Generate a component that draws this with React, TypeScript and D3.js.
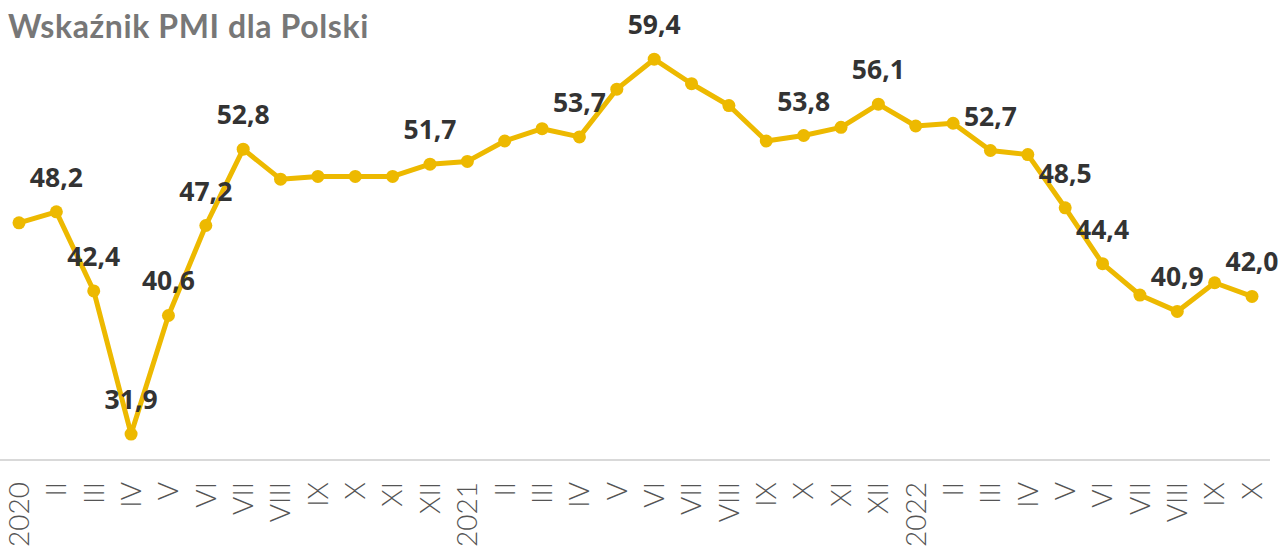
import React from "react";
import * as d3 from "d3";

const months = [
  "I 2020", "II", "III", "IV", "V", "VI", "VII", "VIII", "IX", "X", "XI", "XII",
  "I 2021", "II", "III", "IV", "V", "VI", "VII", "VIII", "IX", "X", "XI", "XII",
  "I 2022", "II", "III", "IV", "V", "VI", "VII", "VIII", "IX", "X",
];
const pmi = [
  47.4, 48.2, 42.4, 31.9, 40.6, 47.2, 52.8, 50.6, 50.8, 50.8, 50.8, 51.7,
  51.9, 53.4, 54.3, 53.7, 57.2, 59.4, 57.6, 56.0, 53.4, 53.8, 54.4, 56.1,
  54.5, 54.7, 52.7, 52.4, 48.5, 44.4, 42.1, 40.9, 43.0, 42.0,
];
const labeled = [1, 2, 3, 4, 5, 6, 11, 15, 17, 21, 23, 26, 28, 29, 31, 33];
const title = "Wskaźnik PMI dla Polski";

const W = 1283;
const H = 551;

export default function App() {
  const keys = months.map((_, i) => String(i));
  const x = d3.scalePoint<string>().domain(keys).range([19, 1252]);
  const y = d3.scaleLinear().domain([30, 60]).range([460, 51]);
  const line = d3
    .line<number>()
    .x((_, i) => x(String(i)) as number)
    .y((d) => y(d));
  const yellow = "#EDB900";
  return (
    <svg
      width={W}
      height={H}
      style={{ position: "absolute", left: 0, top: 0, background: "#fff" }}
    >
      <text
        x={8}
        y={38}
        fontFamily="Lato, 'Open Sans', sans-serif"
        fontWeight={700}
        fontSize={32}
        letterSpacing={0.6}
        fill="#777"
      >
        {title}
      </text>
      <line x1={0} x2={1270} y1={y(30)} y2={y(30)} stroke="#d9d9d9" strokeWidth={2} />
      <path d={line(pmi) || ""} fill="none" stroke={yellow} strokeWidth={5} strokeLinejoin="round" />
      {pmi.map((v, i) => (
        <circle key={i} cx={x(String(i))} cy={y(v)} r={6.5} fill={yellow} />
      ))}
      {labeled.map((i) => (
        <text
          key={"l" + i}
          x={x(String(i))}
          y={y(pmi[i]) - 25}
          textAnchor="middle"
          fontFamily="'Open Sans', Lato, sans-serif"
          fontWeight={700}
          fontSize={26.5}
          fill="#333"
        >
          {pmi[i].toFixed(1).replace(".", ",")}
        </text>
      ))}
      {months.map((m, i) => (
        <text
          key={"t" + i}
          transform={`translate(${x(String(i))},482) rotate(-90)`}
          textAnchor="end"
          dy="0.35em"
          fontFamily="Lato, 'Open Sans', sans-serif"
          fontWeight={300}
          fontSize={28}
          fill="#555"
        >
          {m}
        </text>
      ))}
    </svg>
  );
}
